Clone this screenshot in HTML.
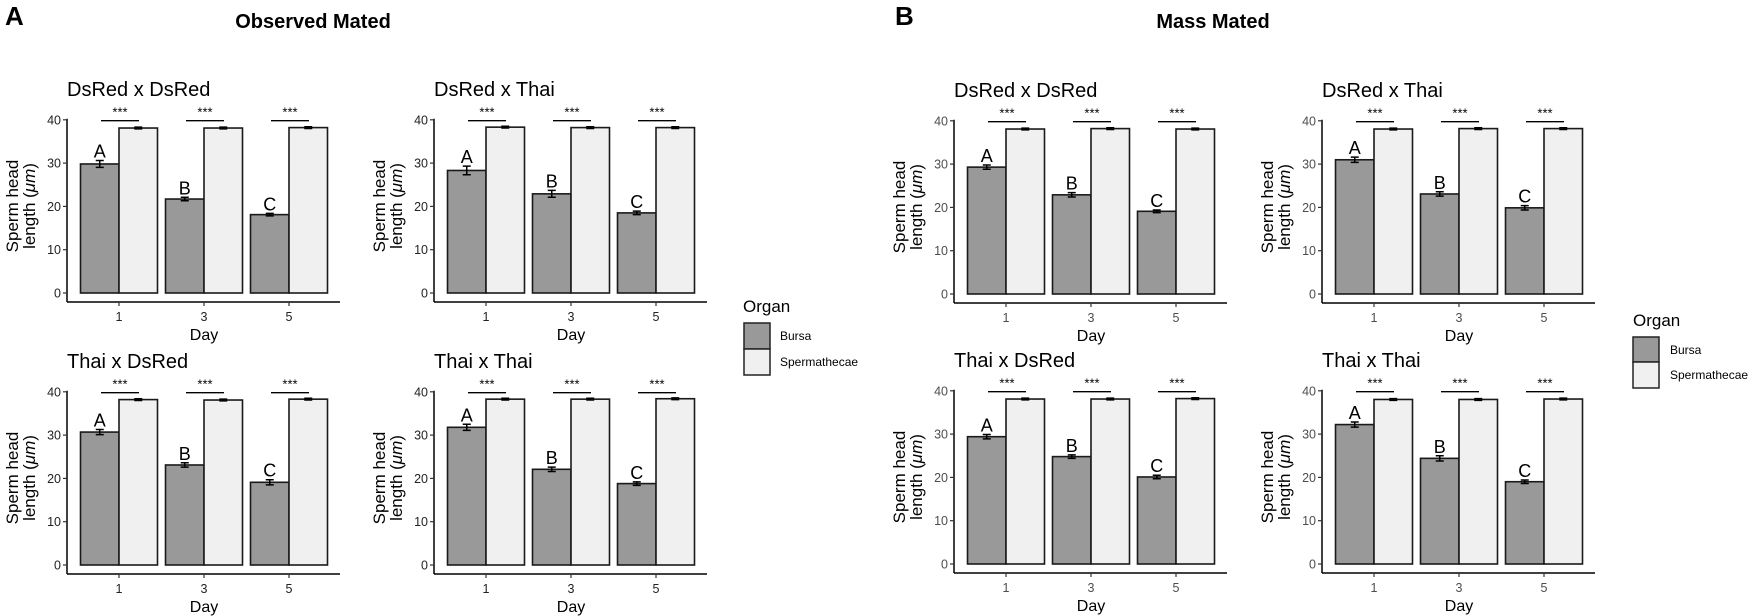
<!DOCTYPE html>
<html><head><meta charset="utf-8"><style>
body{margin:0;background:#fff;}
svg{display:block;font-family:"Liberation Sans",Arial,sans-serif;}
</style></head><body>
<svg id="fig" width="1763" height="616" viewBox="0 0 1763 616" xmlns="http://www.w3.org/2000/svg">
<text x="5" y="25" font-size="26" font-weight="bold">A</text>
<text x="313" y="28" font-size="20" font-weight="bold" text-anchor="middle">Observed Mated</text>
<text x="895" y="25" font-size="26" font-weight="bold">B</text>
<text x="1213" y="28" font-size="20" font-weight="bold" text-anchor="middle">Mass Mated</text>
<g>
<text x="743" y="312" font-size="17">Organ</text>
<rect x="744" y="323" width="26" height="26" fill="#999" stroke="#222" stroke-width="1.5"/>
<rect x="744" y="349" width="26" height="26" fill="#f0f0f0" stroke="#222" stroke-width="1.5"/>
<text x="780" y="340" font-size="12">Bursa</text>
<text x="780" y="366" font-size="12">Spermathecae</text>
</g>
<g>
<text x="1633" y="326" font-size="17">Organ</text>
<rect x="1633" y="337" width="26" height="25" fill="#999" stroke="#222" stroke-width="1.5"/>
<rect x="1633" y="362" width="26" height="26" fill="#f0f0f0" stroke="#222" stroke-width="1.5"/>
<text x="1670" y="354" font-size="12">Bursa</text>
<text x="1670" y="379" font-size="12">Spermathecae</text>
</g>
</svg>
<script>
const days = ["1","3","5"];
const yTicks = [0,10,20,30,40];
const letters = ["A","B","C"];
const panelTitles = ["DsRed x DsRed","DsRed x Thai","Thai x DsRed","Thai x Thai","DsRed x DsRed","DsRed x Thai","Thai x DsRed","Thai x Thai"];
const bursaMeans = [
 [29.8,21.7,18.1],[28.3,22.9,18.5],[30.7,23.1,19.1],[31.8,22.1,18.8],
 [29.3,22.9,19.1],[31.0,23.1,19.9],[29.4,24.8,20.1],[32.2,24.4,19.0]];
const bursaErr = [
 [0.8,0.4,0.3],[1.0,0.8,0.4],[0.6,0.5,0.6],[0.7,0.5,0.4],
 [0.5,0.5,0.3],[0.6,0.5,0.5],[0.5,0.4,0.4],[0.6,0.6,0.4]];
const spermMeans = [
 [38.1,38.1,38.2],[38.3,38.2,38.2],[38.2,38.1,38.3],[38.3,38.3,38.4],
 [38.1,38.2,38.1],[38.1,38.2,38.2],[38.1,38.1,38.2],[38.0,38.0,38.1]];
const spermErr = [
 [0.2,0.2,0.2],[0.2,0.2,0.2],[0.2,0.2,0.2],[0.2,0.2,0.2],
 [0.2,0.2,0.2],[0.2,0.2,0.2],[0.2,0.2,0.2],[0.2,0.2,0.2]];

const NS="http://www.w3.org/2000/svg";
const svg=document.getElementById('fig');
function mk(tag,attrs,parent,text){const e=document.createElementNS(NS,tag);for(const k in attrs)e.setAttribute(k,attrs[k]);if(text!==undefined)e.textContent=text;parent.appendChild(e);return e;}
const origins=[[67,293],[434,293],[67,565],[434,565],[954,294],[1322,294],[954,564],[1322,564]];
const tickColor=["#222","#222","#222","#222","#4d4d4d","#4d4d4d","#4d4d4d","#4d4d4d"];
const barW=38.5;
for(let p=0;p<8;p++){
 const [ax,y0]=origins[p];
 const yS=v=>y0-v*4.33;
 const xS=i=>ax+52+i*85;
 const g=mk('g',{},svg);
 
 
 const t=mk('text',{x:ax,y:y0-197,'font-size':20},g,panelTitles[p]);
 
 
 // y axis
 const ya=mk('line',{x1:ax,x2:ax,y1:yS(40)-1,y2:y0+9,stroke:'#000','stroke-width':1.5},g);
 
 
 yTicks.forEach(v=>{
  mk('line',{x1:ax-4,x2:ax,y1:yS(v),y2:yS(v),stroke:'#333','stroke-width':1.2},g);
  const tl=mk('text',{x:ax-6,y:yS(v)+4.5,'font-size':12.5,'text-anchor':'end',fill:tickColor[p]},g,String(v));
  
  
 });
 const yt=mk('text',{transform:`translate(${ax-49},${y0-87}) rotate(-90)`,'font-size':17,'text-anchor':'middle'},g);
 
 
 mk('tspan',{x:0,dy:0},yt,'Sperm head');
 const ts=mk('tspan',{x:0,dy:17},yt,'length (');
 mk('tspan',{'font-style':'italic'},yt,'μm');
 mk('tspan',{},yt,')');
 // x axis
 const xa=mk('line',{x1:ax,x2:ax+273,y1:y0+9,y2:y0+9,stroke:'#000','stroke-width':1.5},g);
 
 
 days.forEach((d,i)=>{
  mk('line',{x1:xS(i),x2:xS(i),y1:y0+9,y2:y0+13,stroke:'#333','stroke-width':1.2},g);
  const xl=mk('text',{x:xS(i),y:y0+28,'font-size':12.5,'text-anchor':'middle',fill:tickColor[p]},g,d);
  
  
 });
 const xt=mk('text',{x:ax+137,y:y0+47,'font-size':16,'text-anchor':'middle'},g,'Day');
 
 
 days.forEach((d,i)=>{
  const c=xS(i);
  const b=mk('rect',{x:c-barW,y:yS(bursaMeans[p][i]),width:barW,height:yS(0)-yS(bursaMeans[p][i]),fill:'#999',stroke:'#1a1a1a','stroke-width':1.6},g);
  
  
  const s=mk('rect',{x:c,y:yS(spermMeans[p][i]),width:barW,height:yS(0)-yS(spermMeans[p][i]),fill:'#f0f0f0',stroke:'#1a1a1a','stroke-width':1.6},g);
  
  
  [[c-barW/2,bursaMeans[p][i],bursaErr[p][i]],[c+barW/2,spermMeans[p][i],spermErr[p][i]]].forEach(([cx,m,e])=>{
   const eb=mk('path',{d:`M${cx-4},${yS(m+e)}H${cx+4}M${cx},${yS(m+e)}V${yS(m-e)}M${cx-4},${yS(m-e)}H${cx+4}`,stroke:'#000','stroke-width':1.5,fill:'none'},g);
   
   
  });
  const lt=mk('text',{x:c-barW/2,y:yS(bursaMeans[p][i]+bursaErr[p][i])-3,'font-size':18,'text-anchor':'middle'},g,letters[i]);
  
  
  const sl=mk('line',{x1:c-18,x2:c+20,y1:yS(39.8),y2:yS(39.8),stroke:'#000','stroke-width':1.3},g);
  
  
  const st=mk('text',{x:c+1,y:yS(39.8)-4,'font-size':13,'text-anchor':'middle'},g,'***');
  
  
 });
}
</script>
</body></html>
